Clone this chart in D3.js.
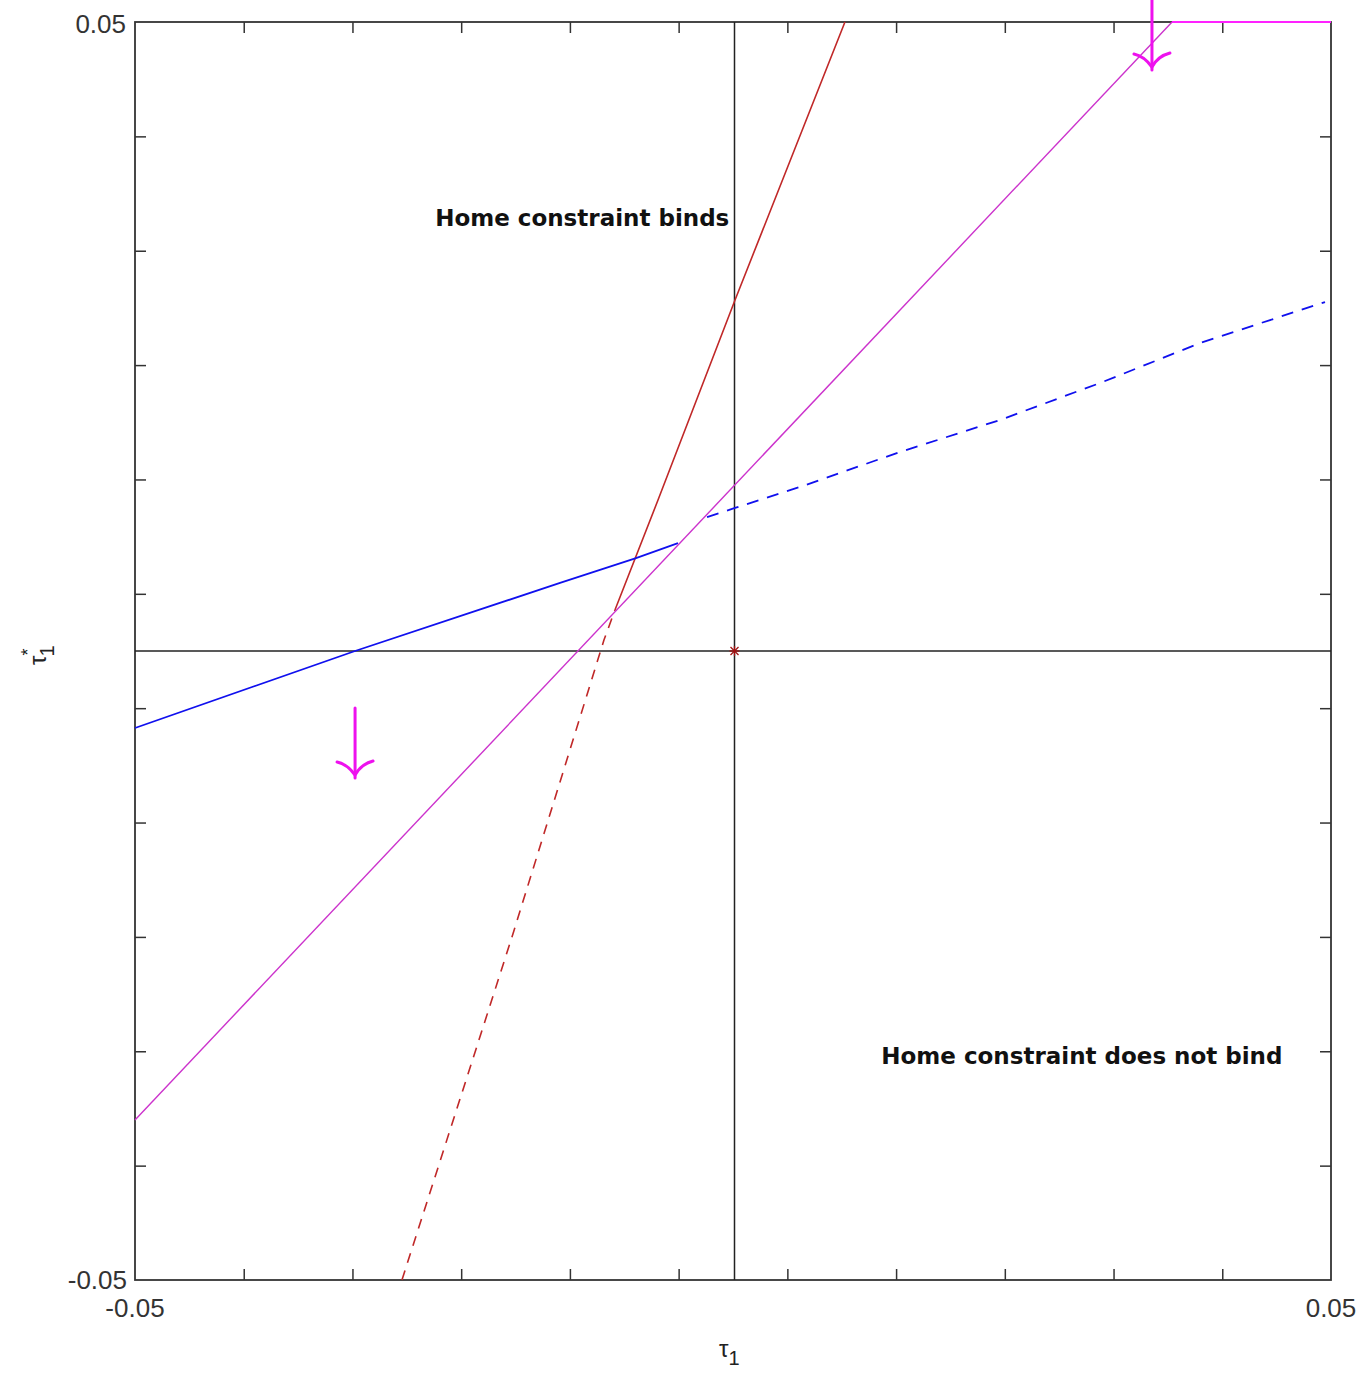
<!DOCTYPE html>
<html>
<head>
<meta charset="utf-8">
<script src="https://cdn.jsdelivr.net/npm/d3@7"></script>
<style>
  body { margin: 0; background: #fff; }
  svg { display: block; }
</style>
</head>
<body>
<svg id="chart" width="1357" height="1374"></svg>
<script>
// --- data ---
const xDomain = [-0.05, 0.05];
const yDomain = [-0.05, 0.05];
const nTickIntervals = 11;
const edgeTickLabels = ["-0.05", "0.05"];

// red curve: solid part, then dashed part
const redSolid = [[-0.00987, 0.00326], [-0.00627, 0.0120], [0.00017, 0.0279], [0.00936, 0.05]];
const redDashed = [[-0.02768, -0.05], [-0.01848, -0.02273], [-0.01079, 0.00087], [-0.00987, 0.00326]];

// blue curve: solid part, then dashed part
const blueSolid = [[-0.05, -0.00612], [-0.0316, 0], [-0.01446, 0.00541], [-0.00811, 0.00739], [-0.0046, 0.00858]];
const blueDashed = [[-0.00217, 0.01065], [0.00017, 0.01137], [0.0056, 0.01304], [0.01396, 0.01582],
                    [0.02232, 0.01836], [0.03068, 0.0213], [0.03905, 0.02448], [0.0495, 0.02774]];

// magenta line, capped at the top
const magentaLine = [[-0.05, -0.03728], [0.03671, 0.05], [0.05, 0.05]];

// hand-drawn arrows: x, yStart, yEnd
const arrows = [[-0.0316, -0.00453, -0.0101], [0.03503, 0.05175, 0.04618]];

const notes = [
  { text: "Home constraint binds", x: -0.0249, y: 0.0338 },
  { text: "Home constraint does not bind", x: 0.0124, y: -0.0328 }
];

// --- layout ---
const svg = d3.select("#chart");
const mLeft = 135, mRight = 1331, mTop = 22, mBottom = 1280;

const x = d3.scaleLinear().domain(xDomain).range([mLeft, mRight]);
const y = d3.scaleLinear().domain(yDomain).range([mBottom, mTop]);

const tickVals = d3.range(1, nTickIntervals).map(k => xDomain[0] + k * (xDomain[1] - xDomain[0]) / nTickIntervals);
const tickValsY = d3.range(1, nTickIntervals).map(k => yDomain[0] + k * (yDomain[1] - yDomain[0]) / nTickIntervals);

const axisColor = "#333";
const tickLen = 11;

// axes with inward ticks on all four sides
svg.append("g").attr("transform", `translate(0,${mBottom})`)
  .call(d3.axisBottom(x).tickValues(tickVals).tickSize(-tickLen).tickFormat(""));
svg.append("g").attr("transform", `translate(0,${mTop})`)
  .call(d3.axisTop(x).tickValues(tickVals).tickSize(-tickLen).tickFormat(""));
svg.append("g").attr("transform", `translate(${mLeft},0)`)
  .call(d3.axisLeft(y).tickValues(tickValsY).tickSize(-tickLen).tickFormat(""));
svg.append("g").attr("transform", `translate(${mRight},0)`)
  .call(d3.axisRight(y).tickValues(tickValsY).tickSize(-tickLen).tickFormat(""));
svg.selectAll(".domain").remove();
svg.selectAll(".tick line").attr("stroke", axisColor).attr("stroke-width", 1.5);

// frame
svg.append("rect")
  .attr("x", mLeft).attr("y", mTop).attr("width", mRight - mLeft).attr("height", mBottom - mTop)
  .attr("fill", "none").attr("stroke", axisColor).attr("stroke-width", 1.8);

// zero lines
svg.append("line").attr("x1", x(0) + 1.5).attr("x2", x(0) + 1.5).attr("y1", mTop).attr("y2", mBottom)
  .attr("stroke", "#222").attr("stroke-width", 1.5);
svg.append("line").attr("x1", mLeft).attr("x2", mRight).attr("y1", y(0)).attr("y2", y(0))
  .attr("stroke", "#222").attr("stroke-width", 1.5);

// edge tick labels
const tickFont = "'Liberation Sans', Arial, sans-serif";
const lab = (t, px, py, anchor) => svg.append("text").text(t)
  .attr("x", px).attr("y", py).attr("text-anchor", anchor)
  .attr("dominant-baseline", "central")
  .attr("font-family", tickFont).attr("font-size", 26).attr("fill", "#333");
lab(edgeTickLabels[1], mLeft - 9, y(yDomain[1]) + 2, "end");
lab(edgeTickLabels[0], mLeft - 8, y(yDomain[0]), "end");
lab(edgeTickLabels[0], x(xDomain[0]), mBottom + 28, "middle");
lab(edgeTickLabels[1], x(xDomain[1]), mBottom + 28, "middle");

// curves
const line = d3.line().x(d => x(d[0])).y(d => y(d[1]));
const draw = (data, color, width, dash) => svg.append("path").datum(data)
  .attr("d", line).attr("fill", "none")
  .attr("stroke", color).attr("stroke-width", width)
  .attr("stroke-dasharray", dash || null);

draw(redSolid, "#c02828", 1.6);
draw(redDashed, "#c02828", 1.6, "10 8");
draw(blueSolid, "#1010ee", 1.8);
draw(blueDashed, "#1010ee", 1.8, "12 9");
draw(magentaLine.slice(0, 2), "#cc33cc", 1.4);
draw(magentaLine.slice(1), "#ff22ff", 2);

// star at origin
const star = svg.append("g").attr("transform", `translate(${x(0) + 1.5},${y(0)})`);
[[-5, 0, 5, 0], [0, -5, 0, 5], [-4, -4, 4, 4], [-4, 4, 4, -4]].forEach(s =>
  star.append("line").attr("x1", s[0]).attr("y1", s[1]).attr("x2", s[2]).attr("y2", s[3])
    .attr("stroke", "#a01010").attr("stroke-width", 1.3));

// hand-drawn arrows
arrows.forEach(a => {
  const ax = x(a[0]), y0 = y(a[1]), y1 = y(a[2]);
  const g = svg.append("g").attr("stroke", "#ee11ee").attr("fill", "none")
    .attr("stroke-width", 3).attr("stroke-linecap", "round");
  g.append("line").attr("x1", ax).attr("y1", y0).attr("x2", ax).attr("y2", y1);
  g.append("path").attr("d",
    `M${ax - 18},${y1 - 16} Q${ax - 8},${y1 - 14} ${ax},${y1 - 3} Q${ax + 6},${y1 - 14} ${ax + 18},${y1 - 17}`);
});

// annotations
notes.forEach(n => svg.append("text").text(n.text)
  .attr("x", x(n.x)).attr("y", y(n.y))
  .attr("font-family", "'DejaVu Sans', Verdana, sans-serif")
  .attr("font-weight", "bold").attr("font-size", 23).attr("fill", "#111"));

// axis labels
const xl = svg.append("text").attr("x", x(0) - 14).attr("y", 1357)
  .attr("font-family", tickFont).attr("font-size", 24).attr("fill", "#222");
xl.append("tspan").text("τ");
xl.append("tspan").text("1").attr("dy", 8).attr("font-size", 20);

const yl = svg.append("text")
  .attr("transform", `translate(46,${y(0) + 14}) rotate(-90)`)
  .attr("font-family", tickFont).attr("font-size", 24).attr("fill", "#222");
yl.append("tspan").text("τ");
yl.append("tspan").text("*").attr("dy", -12).attr("font-size", 18);
yl.append("tspan").text("1").attr("dx", -8).attr("dy", 20).attr("font-size", 20);
</script>
</body>
</html>
